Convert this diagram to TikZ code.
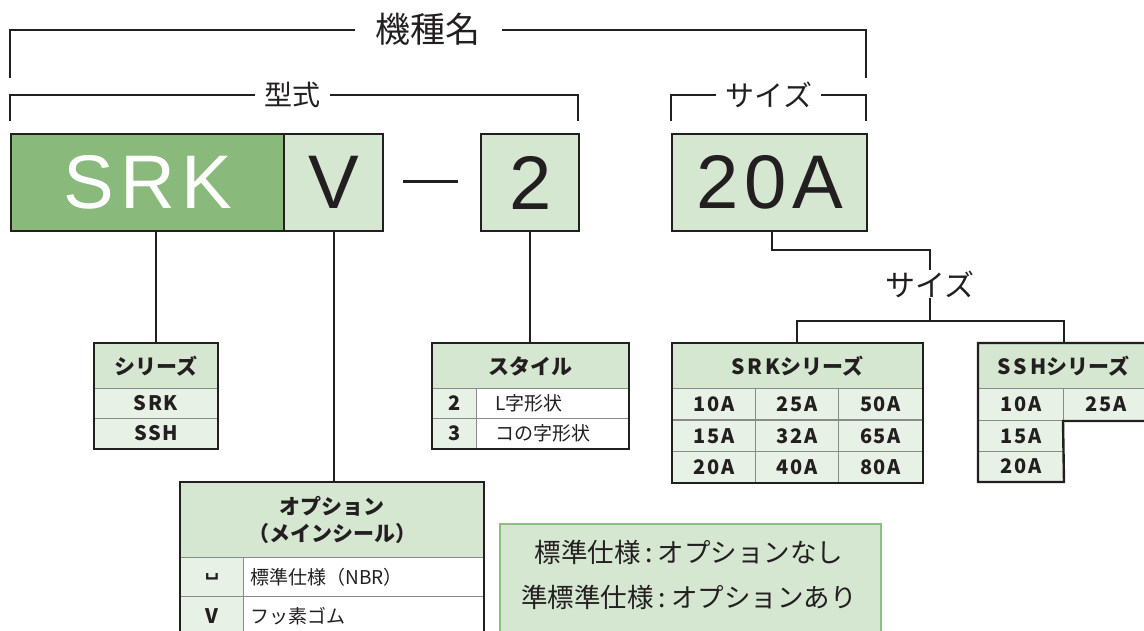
\documentclass[tikz,border=0pt]{standalone}
\usepackage{fontspec}
\setmainfont{Noto Sans CJK JP}
\newfontfamily\latinfnt[LetterSpace=8]{Liberation Sans}
\newfontfamily\symfnt{DejaVu Sans}
\definecolor{ink}{HTML}{231F20}
\definecolor{dkgreen}{HTML}{8AB97C}
\definecolor{ltgreen}{HTML}{D5E6D1}
\definecolor{pale}{HTML}{E8F1E5}
\definecolor{rule}{HTML}{8A8A8A}
\definecolor{notebd}{HTML}{8DC07E}
\tikzset{
  ln/.style={draw=ink, line width=2.2},
  bigbox/.style={draw=ink, line width=2.4, fill=ltgreen, anchor=north west, inner sep=0,
     text=ink, font=\latinfnt\fontsize{76}{76}\selectfont},
  lbl/.style={text=ink, inner sep=0},
  hdr/.style={draw=rule, line width=1, fill=ltgreen, anchor=north west, inner sep=0, text=ink,
     align=center, font=\bfseries\fontsize{21}{27}\selectfont},
  cellp/.style={draw=rule, line width=1, fill=pale, anchor=north west, inner sep=0, text=ink,
     font=\bfseries\addfontfeature{LetterSpace=8}\fontsize{20}{20}\selectfont},
  cellw/.style={draw=rule, line width=1, fill=white, anchor=north west, inner sep=0, text=ink,
     font=\fontsize{19}{19}\selectfont},
  frame/.style={draw=ink, line width=2.4},
}
\begin{document}
\begin{tikzpicture}[x=1pt,y=-1pt]
\useasboundingbox (0,0) rectangle (1144,630);
\clip (0,0) rectangle (1144,630);

% ---------- top brackets ----------
\node[lbl, font=\fontsize{35}{35}\selectfont] (kishu) at (428,29) {機種名};
\draw[ln] (10,78) |- (355,30);
\draw[ln] (502,30) -| (866,78);

\node[lbl, font=\fontsize{28}{28}\selectfont] (kata) at (292,95) {型式};
\draw[ln] (10,121) |- (255,95);
\draw[ln] (330,95) -| (578,121);

\node[lbl, font=\fontsize{29}{29}\selectfont] (sizet) at (769,95) {サイズ};
\draw[ln] (671,121) |- (716,95);
\draw[ln] (821,95) -| (866,121);

% ---------- big boxes ----------
\node[bigbox, fill=dkgreen, text=white, minimum width=273, minimum height=97] (srk) at (10,133) {SRK};
\node[bigbox, minimum width=99, minimum height=97] (v) at (283,133) {V};
\draw[ink, line width=3] (403,181) -- (458,181);
\node[bigbox, minimum width=98, minimum height=97] (two) at (480,133) {2};
\node[bigbox, minimum width=195, minimum height=97] (sz) at (671,133) {20A};

% ---------- series table ----------
\node[hdr, minimum width=123, minimum height=45] (serh) at (94,343) {シリーズ};
\node[cellp, minimum width=123, minimum height=30] (ser1) at (94,388) {SRK};
\node[cellp, minimum width=123, minimum height=30] (ser2) at (94,418) {SSH};
\draw[frame] (serh.north west) rectangle (ser2.south east);

% ---------- style table ----------
\node[hdr, minimum width=196, minimum height=45] (styh) at (432,343) {スタイル};
\node[cellp, minimum width=44, minimum height=30] (sty1a) at (432,388) {2};
\node[cellw, minimum width=152, minimum height=30, text width=114, align=left] (sty1b) at (476,388) {L字形状};
\node[cellp, minimum width=44, minimum height=30] (sty2a) at (432,418) {3};
\node[cellw, minimum width=152, minimum height=30, text width=114, align=left] (sty2b) at (476,418) {コの字形状};
\draw[frame] (styh.north west) rectangle (sty2b.south east);

% ---------- option table ----------
\node[hdr, minimum width=303, minimum height=75] (opth) at (180,482) {オプション\\（メインシール）};
\node[cellp, minimum width=63, minimum height=39] (opt1a) at (180,557) {\symfnt ␣};
\node[cellw, minimum width=240, minimum height=39, text width=226, align=left] (opt1b) at (243,557) {標準仕様（NBR）};
\node[cellp, minimum width=63, minimum height=39] (opt2a) at (180,596) {V};
\node[cellw, minimum width=240, minimum height=39, text width=226, align=left] (opt2b) at (243,596) {フッ素ゴム};
\draw[frame] (opth.north west) rectangle (opt2b.south east);

% ---------- note ----------
\node[draw=notebd, line width=2.4, fill=ltgreen, anchor=north west, minimum width=381, minimum height=120,
      inner sep=0] (note) at (499,523) {};
\node[lbl, align=center, font=\fontsize{26.5}{45}\selectfont] (notetxt) at (689,575)
      {標準仕様\hspace{5pt}:\hspace{5pt}オプションなし\\準標準仕様\hspace{5pt}:\hspace{5pt}オプションあり};

% ---------- size section ----------
\node[lbl, font=\fontsize{30}{30}\selectfont] (sizem) at (930,284) {サイズ};
\coordinate (split) at (930,321);

\node[hdr, minimum width=250, minimum height=45] (srkh) at (672,343) {S\hspace{3pt}R\hspace{3pt}Kシリーズ};
\foreach \r/\y/\a/\b/\c in {1/388/10A/25A/50A, 2/420/15A/32A/65A, 3/451/20A/40A/80A}{
  \node[cellp, minimum width=83, minimum height=31] (srk\r a) at (672,\y) {\a};
  \node[cellp, minimum width=83, minimum height=31] (srk\r b) at (755,\y) {\b};
  \node[cellp, minimum width=84, minimum height=31] (srk\r c) at (838,\y) {\c};
}
\draw[frame] (srkh.north west) rectangle (srk3c.south east);

\node[hdr, minimum width=170, minimum height=45] (sshh) at (978,343) {S\hspace{3pt}S\hspace{3pt}Hシリーズ};
\node[cellp, minimum width=85, minimum height=32] (ssh1a) at (978,388) {10A};
\node[cellp, minimum width=85, minimum height=32] (ssh1b) at (1063,388) {25A};
\node[cellp, minimum width=85, minimum height=31] (ssh2a) at (978,420) {15A};
\node[cellp, minimum width=85, minimum height=30] (ssh3a) at (978,451) {20A};
\draw[frame] (ssh1b.south east) -- (ssh1b.south west) -- (ssh3a.south east) -- (ssh3a.south west)
   -- (sshh.north west) -- (sshh.north east);

% ---------- connectors ----------
\draw[ln] (srk.south -| ser1.north) -- (ser1.north |- serh.north);
\draw[ln] (v.south) -- (opth.north -| v.south);
\draw[ln] (two.south -| 530,0) -- (styh.north -| 530,0);
\draw[ln] (772,230) |- (930,250) -- (sizem.north);
\draw[ln] (sizem.south) -- (split);
\draw[ln] (srkh.north -| 797,0) |- (split) -| (sshh.north -| 1064,0);
\end{tikzpicture}
\end{document}
